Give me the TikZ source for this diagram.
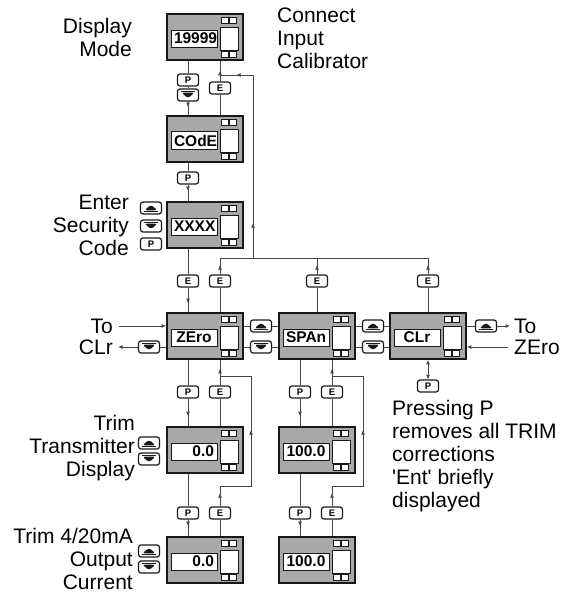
\documentclass[tikz,border=0pt]{standalone}
\usepackage{fontspec}
\setmainfont{Liberation Sans}
\usepackage{tikz}
\usetikzlibrary{arrows.meta,positioning,calc,decorations.markings}
\definecolor{casegray}{RGB}{168, 168, 168}
\definecolor{wiregray}{RGB}{70, 70, 70}
\definecolor{inkblack}{RGB}{25, 25, 25}

% display unit: case + readout window
\newcommand{\dispunit}[4][center]{%
  \node[case] (#2) at (#3) {};
  \node[readout, align=#1] (#2-r) at ([xshift=-11pt,yshift=-1.5pt]#2.center) {#4};
}

\begin{document}
\begin{tikzpicture}[x=1pt, y=-1pt,
  case/.style={rectangle, draw=inkblack, fill=casegray, line width=1.6pt, minimum width=76pt, minimum height=46pt, inner sep=0pt,
    path picture={
      \draw[line width=0.8pt, fill=white] ([shift={(15pt,10pt)}]path picture bounding box.center) rectangle ([shift={(33pt,-13pt)}]path picture bounding box.center);
      \foreach \sx in {16,24} {\foreach \sy in {20,-14} {
        \draw[line width=0.6pt, fill=white] ([shift={(\sx pt,\sy pt)}]path picture bounding box.center) rectangle ++(7pt,-6pt);}}
    }},
  readout/.style={rectangle, draw=inkblack, fill=white, line width=0.8pt, text width=40pt, minimum height=17pt, inner sep=3pt, font=\bfseries\fontsize{15.5}{16}\selectfont},
  key/.style={rectangle, rounded corners=2.5pt, draw=inkblack, fill=white, line width=1.2pt, minimum width=21pt, minimum height=12pt, inner sep=0pt, font=\bfseries\fontsize{9.5}{9.5}\selectfont},
  upkey/.style={key, path picture={
      \fill[inkblack] ([shift={(0pt,3.2pt)}]path picture bounding box.center) -- ++(-6.5pt,-5.5pt) -- ++(13pt,0pt) -- cycle;
      \draw[inkblack, line width=1.1pt] ([shift={(-7pt,-3.4pt)}]path picture bounding box.center) -- ++(14pt,0pt);}},
  downkey/.style={key, path picture={
      \fill[inkblack] ([shift={(0pt,-3.2pt)}]path picture bounding box.center) -- ++(-6.5pt,5.5pt) -- ++(13pt,0pt) -- cycle;
      \draw[inkblack, line width=1.1pt] ([shift={(-7pt,3.4pt)}]path picture bounding box.center) -- ++(14pt,0pt);}},
  wire/.style={draw=wiregray, line width=0.9pt},
  tipat/.style={postaction={decorate, decoration={markings, mark=at position #1 with {\arrow{Latex[length=4.5pt,width=4pt]}}}}},
  endtip/.style={-{Latex[length=4.5pt,width=4pt]}},
  lbl/.style={font=\fontsize{21}{23}\selectfont, inner sep=0pt}
]
\useasboundingbox (0,0) rectangle (569,594);

% Side captions
\node[lbl, align=right, anchor=east] (dispMode) at (132,37) {Display\\Mode};
\node[lbl, align=left, anchor=west] (connect) at (277,38) {Connect\\Input\\Calibrator};
\node[lbl, align=right, anchor=east] (secCode) at (129,225) {Enter\\Security\\Code};
\node[lbl, align=right, anchor=east] (trimDisp) at (135,448) {Trim\\Transmitter\\Display};
\node[lbl, align=right, anchor=east] (trimOut) at (133,559) {Trim 4/20mA\\Output\\Current};

% Display units
\dispunit{u1}{205,37}{19999}
\dispunit{u2}{205,139}{COdE}
\dispunit{u3}{205,225}{XXXX}
\dispunit{uZ}{205,336}{ZEro}
\dispunit[right]{uZ2}{205,450}{0.0}
\dispunit[right]{uZ3}{205,560}{0.0}
\dispunit{uS}{317,336}{SPAn}
\dispunit{uS2}{317,450}{100.0}
\dispunit{uS3}{317,560}{100.0}
\dispunit{uC}{428,336}{CLr}

% Keys beside captions
\node[upkey] (kSecU) at (151,208) {};
\node[downkey] (kSecD) at (151,226) {};
\node[key] (kSecP) at (151,244) {P};
\node[upkey] (kTdU) at (149,443) {};
\node[downkey] (kTdD) at (149,459) {};
\node[upkey] (kToU) at (149,551) {};
\node[downkey] (kToD) at (149,567) {};

% Display Mode -> COdE
\node[key] (kP1) at (188,80) {P};
\node[downkey] (kD1) at (188,95) {};
\node[key] (kE1) at (220,88) {E};
\draw[wire] ([xshift=-17pt]u1.south) -- (kP1);
\draw[wire] (kP1) -- (kD1);
\draw[wire, tipat=-8pt] (kD1) -- ([xshift=-17pt]u2.north);
\draw[wire] ([xshift=15pt]u2.north) -- (kE1);
\draw[wire, tipat=-10pt] (kE1) -- ([xshift=15pt]u1.south);

% COdE -> Security code
\node[key] (kP2) at (188,178) {P};
\draw[wire] ([xshift=-17pt]u2.south) -- (kP2);
\draw[wire, tipat=-10pt] (kP2) -- ([xshift=-17pt]u3.north);

% Security code -> ZEro
\node[key] (kE3) at (188,281) {E};
\draw[wire] ([xshift=-17pt]u3.south) -- (kE3);
\draw[wire, tipat=-9pt] (kE3) -- ([xshift=-17pt]uZ.north);

% E bus back to Display Mode
\coordinate (busL) at (220,258);
\coordinate (busR) at (428,258);
\coordinate (busUp) at (253,258);
\coordinate (fbTop) at (253,75);
\coordinate (fbEnd) at (220,75);
\node[key] (kEZ) at (220,281) {E};
\node[key] (kES) at (317,281) {E};
\node[key] (kEC) at (428,281) {E};
\draw[wire] (busL) -- (busR);
\draw[wire, tipat=35pt, tipat=-16pt] (busUp) -- (fbTop) -- (fbEnd);
\draw[wire] ([xshift=15pt]uZ.north) -- (kEZ);
\draw[wire, tipat=-7pt] (kEZ) -- (busL);
\draw[wire] (uS.north) -- (kES);
\draw[wire, tipat=-7pt] (kES) -- (uS.north |- busL);
\draw[wire] (uC.north) -- (kEC);
\draw[wire, tipat=-7pt] (kEC) -- (busR);

% ZEro <-> SPAn <-> CLr
\node[upkey] (kZSu) at (261,326) {};
\node[downkey] (kZSd) at (261,347) {};
\node[upkey] (kSCu) at (373,326) {};
\node[downkey] (kSCd) at (373,347) {};
\draw[wire] ([yshift=10pt]uZ.east) -- (kZSu) -- ([yshift=10pt]uS.west);
\draw[wire] ([yshift=-11pt]uZ.east) -- (kZSd) -- ([yshift=-11pt]uS.west);
\draw[wire] ([yshift=10pt]uS.east) -- (kSCu) -- ([yshift=10pt]uC.west);
\draw[wire] ([yshift=-11pt]uS.east) -- (kSCd) -- ([yshift=-11pt]uC.west);

% Wrap-around to / from CLr
\node[lbl, anchor=east] (tTo) at (113,326) {To};
\node[lbl, anchor=east] (tCLr) at (113,347) {CLr};
\node[downkey] (kZl) at (149,347) {};
\draw[wire, endtip, shorten <=6pt] (tTo.east) -- (tTo.east -| uZ.west);
\draw[wire] (kZl -| uZ.west) -- (kZl);
\draw[wire, endtip, shorten >=5pt] (kZl) -- (tCLr.east);
\node[lbl, anchor=west] (tTo2) at (514,326) {To};
\node[lbl, anchor=west] (tZEro) at (514,347) {ZEro};
\node[upkey] (kCr) at (486,326) {};
\draw[wire] (kCr -| uC.east) -- (kCr);
\draw[wire, endtip, shorten >=4pt] (kCr) -- (tTo2.west);
\draw[wire, endtip, shorten <=6pt] (tZEro.west) -- (tZEro.west -| uC.east);

% CLr reset
\node[key] (kCp) at (428,386) {P};
\draw[wire, {Latex[length=4.5pt,width=4pt]}-{Latex[length=4.5pt,width=4pt]}] (uC.south) -- (kCp);
\node[lbl, align=left, anchor=north west] (note) at (392,400) {Pressing P\\removes all TRIM\\corrections\\\textquotesingle Ent\textquotesingle{} briefly\\displayed};

% ZEro trim column
\node[key] (kZ2p) at (188,392) {P};
\node[key] (kZ2e) at (220,392) {E};
\node[key] (kZ3p) at (188,513) {P};
\node[key] (kZ3e) at (220,513) {E};
\coordinate (rZa) at (220,486);
\coordinate (rZb) at (251,486);
\coordinate (rZc) at (251,376);
\coordinate (rZd) at (220,376);
\draw[wire] ([xshift=-17pt]uZ.south) -- (kZ2p);
\draw[wire, tipat=-10pt] (kZ2p) -- ([xshift=-17pt]uZ2.north);
\draw[wire] ([xshift=15pt]uZ2.north) -- (kZ2e);
\draw[wire, tipat=-9pt] (kZ2e) -- ([xshift=15pt]uZ.south);
\draw[wire] ([xshift=-17pt]uZ2.south) -- (kZ3p);
\draw[wire, tipat=-10pt] (kZ3p) -- ([xshift=-17pt]uZ3.north);
\draw[wire] ([xshift=15pt]uZ3.north) -- (kZ3e);
\draw[wire, tipat=-7pt] (kZ3e) -- (rZa);
\draw[wire, tipat=87pt] (rZa) -- (rZb) -- (rZc) -- (rZd);

% SPAn trim column
\node[key] (kS2p) at (300,392) {P};
\node[key] (kS2e) at (332,392) {E};
\node[key] (kS3p) at (300,513) {P};
\node[key] (kS3e) at (332,513) {E};
\coordinate (rSa) at (332,486);
\coordinate (rSb) at (363,486);
\coordinate (rSc) at (363,376);
\coordinate (rSd) at (332,376);
\draw[wire] ([xshift=-17pt]uS.south) -- (kS2p);
\draw[wire, tipat=-10pt] (kS2p) -- ([xshift=-17pt]uS2.north);
\draw[wire] ([xshift=15pt]uS2.north) -- (kS2e);
\draw[wire, tipat=-9pt] (kS2e) -- ([xshift=15pt]uS.south);
\draw[wire] ([xshift=-17pt]uS2.south) -- (kS3p);
\draw[wire, tipat=-10pt] (kS3p) -- ([xshift=-17pt]uS3.north);
\draw[wire] ([xshift=15pt]uS3.north) -- (kS3e);
\draw[wire, tipat=-7pt] (kS3e) -- (rSa);
\draw[wire, tipat=87pt] (rSa) -- (rSb) -- (rSc) -- (rSd);

\end{tikzpicture}
\end{document}
